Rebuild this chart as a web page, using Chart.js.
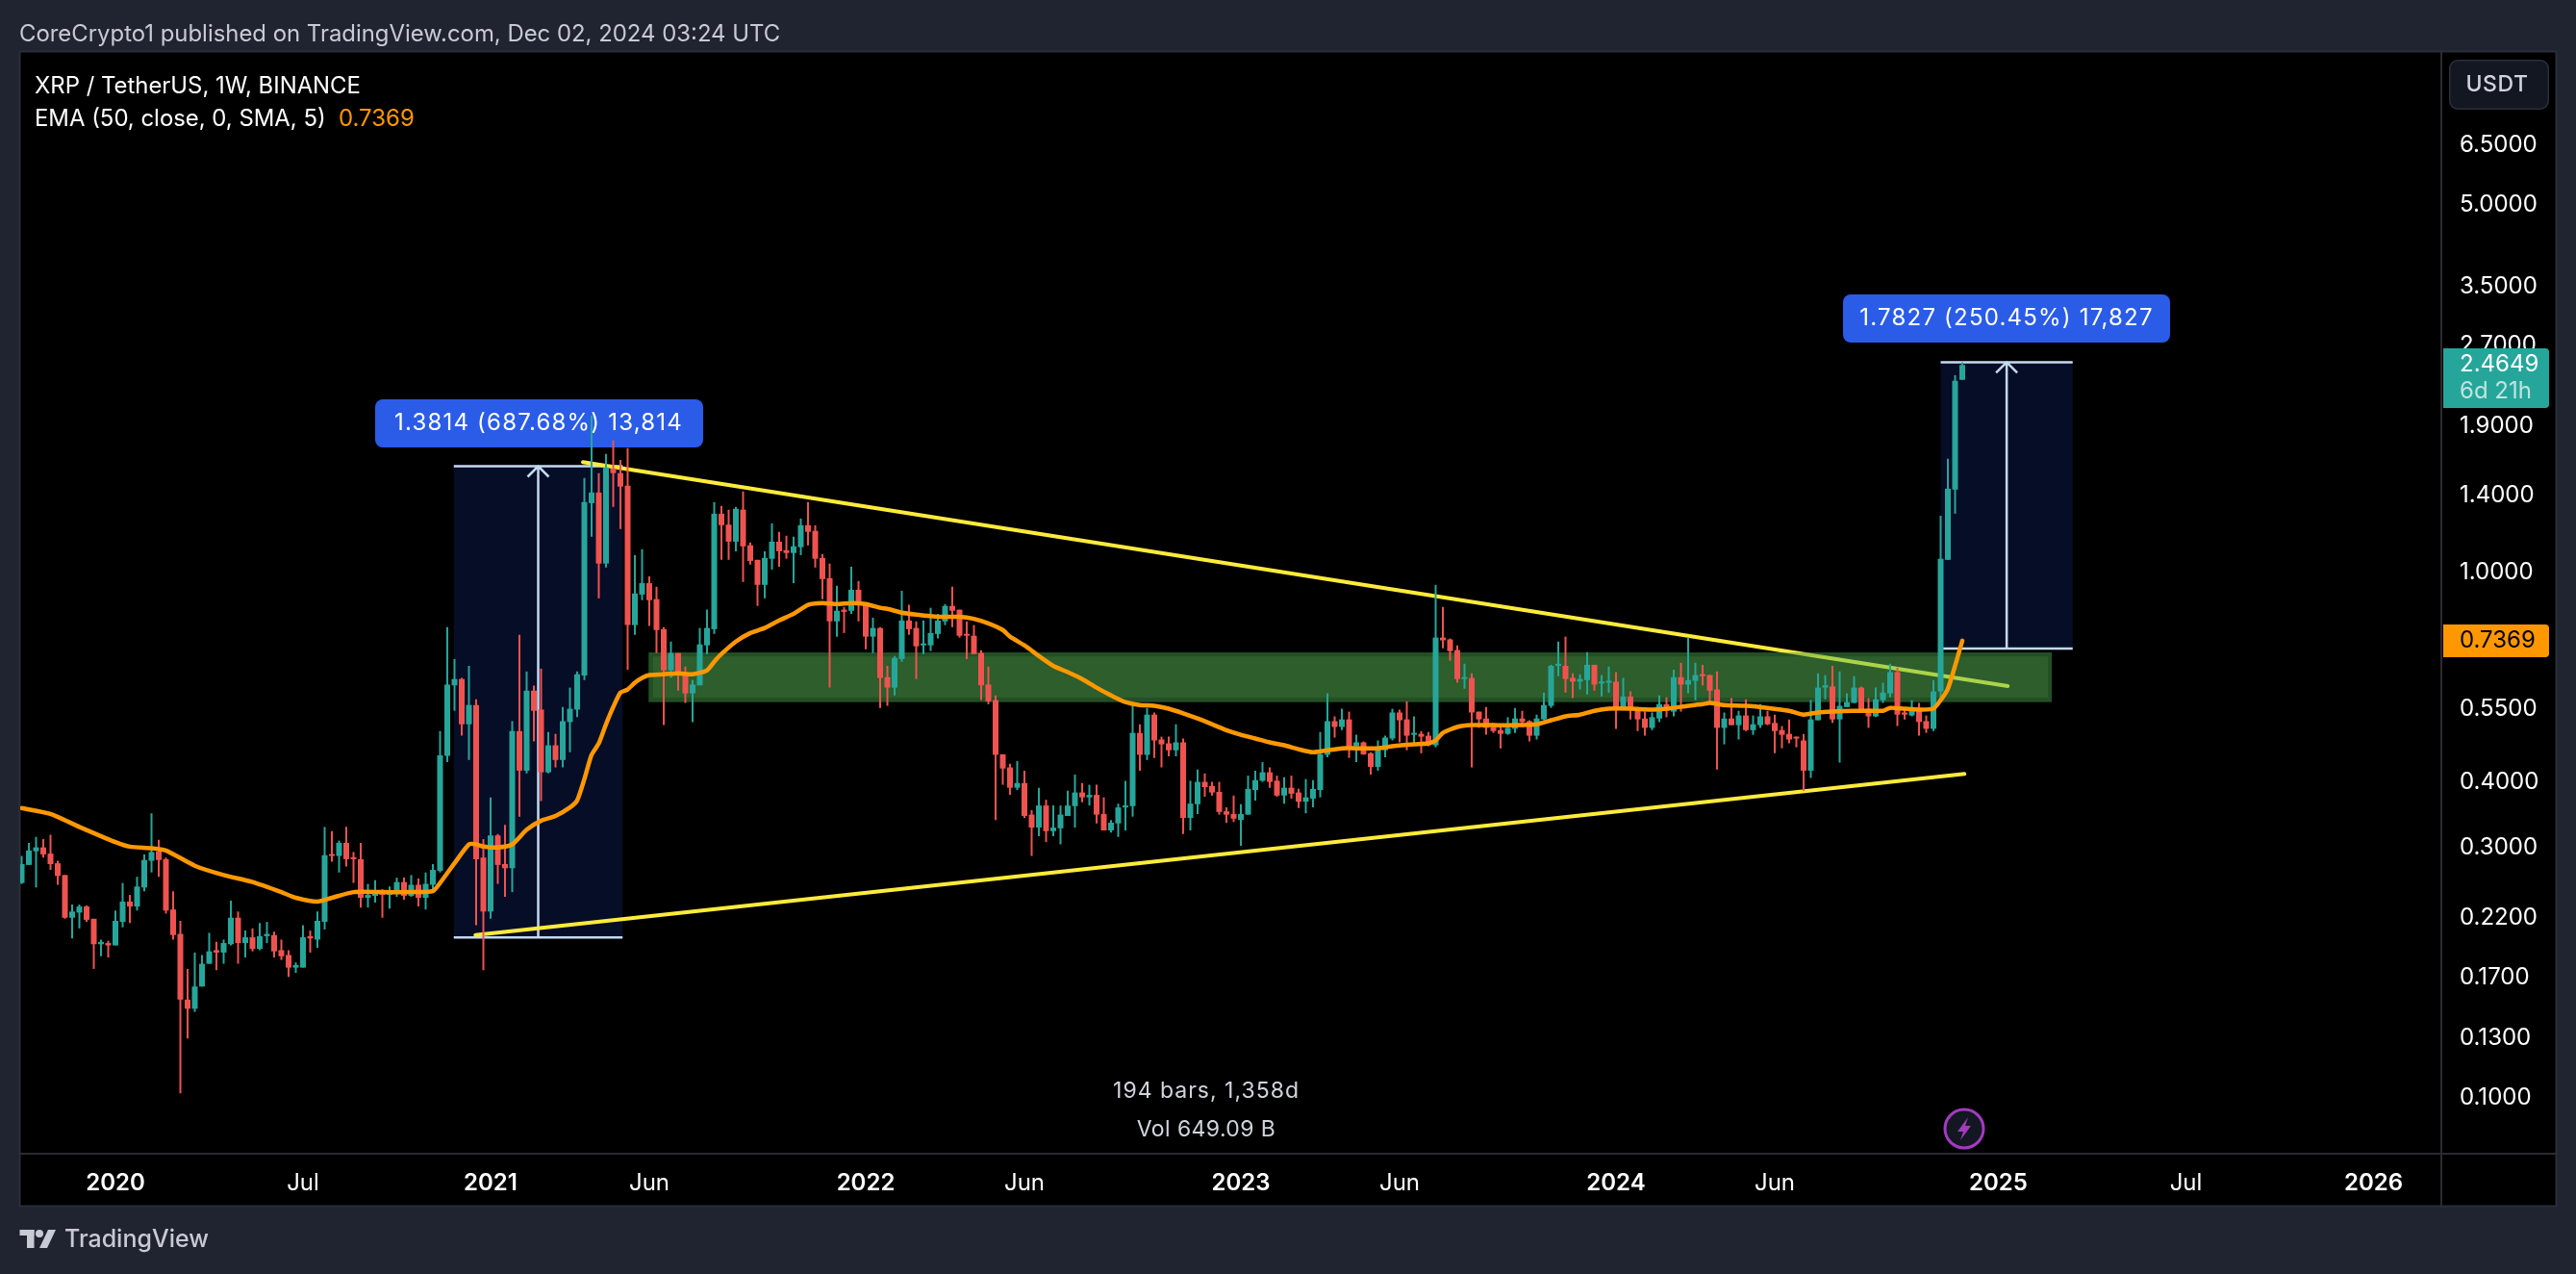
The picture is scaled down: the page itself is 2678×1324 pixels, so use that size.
<!DOCTYPE html>
<html>
<head>
  <title>XRP / TetherUS, 1W, BINANCE</title>
  <style>
    html, body { margin: 0; padding: 0; background: #1f2430; overflow: hidden; }
    canvas { display: block; }
  </style>
</head>
<body>
<canvas id="myCanvas" width="2678" height="1324" style="width:2678px;height:1324px"></canvas>
<script src="https://cdn.jsdelivr.net/npm/chart.js@4/dist/chart.umd.min.js"></script>
<script>
// ---------- weekly candles ----------
var opens = [
  .255,.276,.293,.298,.290,.278,.264,.219,.224,.230,
  .218,.195,.196,.194,.215,.235,.230,.250,.281,.293,
  .283,.227,.204,.153,.147,.162,.179,.190,.188,.195,
  .219,.196,.201,.191,.202,.203,.190,.186,.176,.176,
  .202,.199,.215,.289,.287,.304,.285,.283,.239,.241,
  .246,.242,.246,.256,.241,.253,.239,.253,.269,.445,
  .606,.623,.511,.556,.285,.225,.314,.277,.272,.496,
  .417,.592,.545,.414,.466,.437,.516,.545,.633,1.346,
  1.410,1.033,1.566,1.535,1.453,.789,.902,.948,.884,.775,
  .647,.698,.636,.585,.606,.722,.775,1.285,1.225,1.137,
  1.308,1.119,1.050,.941,1.055,1.137,1.095,1.082,1.110,1.222,
  1.192,1.059,.969,.802,.844,.840,.921,.862,.750,.779,
  .628,.600,.680,.805,.779,.722,.722,.759,.802,.858,
  .844,.759,.753,.698,.608,.568,.448,.423,.387,.395,
  .344,.325,.358,.320,.324,.342,.357,.379,.371,.375,
  .345,.321,.331,.355,.357,.492,.447,.533,.478,.470,
  .456,.472,.339,.360,.397,.390,.380,.349,.345,.336,
  .344,.383,.399,.414,.399,.374,.387,.379,.364,.369,
  .383,.447,.518,.505,.522,.464,.472,.450,.424,.456,
  .480,.538,.522,.488,.490,.486,.466,.747,.741,.707,
  .623,.626,.540,.524,.505,.498,.490,.501,.524,.518,
  .486,.522,.554,.660,.660,.626,.616,.620,.663,.611,
  .613,.616,.549,.577,.549,.524,.503,.524,.558,.540,
  .628,.608,.618,.636,.634,.595,.503,.524,.509,.531,
  .498,.509,.529,.514,.498,.490,.482,.476,.417,.520,
  .600,.603,.522,.551,.561,.600,.547,.529,.568,.585,
  .642,.538,.531,.549,.518,.501,.590,1.050,1.428,2.310
];
var highs = [
  .287,.304,.312,.309,.315,.281,.264,.232,.232,.231,
  .218,.199,.198,.226,.255,.242,.262,.289,.346,.308,
  .285,.246,.216,.175,.188,.186,.205,.197,.199,.236,
  .225,.207,.209,.214,.215,.206,.199,.190,.180,.212,
  .207,.225,.326,.320,.307,.326,.292,.304,.254,.258,
  .248,.251,.261,.261,.264,.260,.267,.277,.496,.782,
  .680,.626,.660,.570,.309,.371,.316,.329,.518,.756,
  .644,.605,.652,.494,.490,.551,.600,.644,1.503,1.976,
  1.535,1.670,1.771,1.627,1.713,1.072,1.100,.977,.933,.782,
  .734,.698,.658,.620,.779,.844,1.352,1.330,1.308,1.324,
  1.417,1.133,1.050,1.090,1.232,1.187,1.167,1.162,1.258,1.352,
  1.222,1.077,1.033,.937,.854,1.019,.957,.862,.815,.782,
  .660,.689,.917,.862,.802,.805,.851,.829,.865,.933,
  .844,.802,.789,.707,.658,.580,.448,.430,.435,.417,
  .351,.387,.367,.358,.358,.382,.410,.395,.392,.392,
  .371,.336,.361,.399,.561,.511,.549,.538,.484,.484,
  .511,.480,.399,.419,.412,.397,.397,.355,.374,.360,
  .408,.417,.433,.423,.408,.405,.408,.385,.402,.400,
  .494,.585,.529,.547,.540,.488,.474,.452,.476,.486,
  .547,.545,.565,.529,.496,.494,.941,.854,.744,.722,
  .666,.639,.540,.551,.514,.509,.527,.549,.542,.520,
  .533,.587,.663,.734,.750,.639,.636,.701,.663,.634,
  .658,.642,.626,.590,.551,.540,.538,.580,.575,.649,
  .669,.747,.669,.663,.634,.644,.538,.573,.542,.570,
  .531,.558,.542,.533,.507,.522,.484,.490,.568,.639,
  .634,.660,.644,.585,.631,.603,.573,.600,.613,.666,
  .655,.547,.568,.561,.531,.620,1.274,1.635,2.357,2.4945
];
var lows = [
  .254,.276,.250,.285,.270,.253,.218,.200,.209,.215,
  .175,.185,.184,.194,.210,.214,.226,.246,.267,.262,
  .223,.199,.1015,.129,.145,.162,.179,.174,.179,.194,
  .179,.184,.189,.190,.196,.184,.182,.169,.172,.176,
  .188,.192,.208,.280,.267,.274,.255,.229,.229,.234,
  .219,.228,.240,.237,.240,.230,.227,.245,.267,.433,
  .542,.486,.437,.212,.174,.218,.254,.240,.245,.341,
  .412,.474,.365,.412,.423,.423,.452,.527,.620,1.162,
  .887,1.015,1.324,1.202,.649,.756,.880,.786,.698,.509,
  .626,.592,.561,.516,.606,.695,.759,1.050,1.050,1.090,
  .953,1.028,.858,.887,1.006,1.019,1.055,.948,1.072,1.119,
  1.015,.884,.600,.750,.762,.829,.802,.710,.698,.549,
  .554,.580,.672,.756,.623,.695,.704,.744,.789,.782,
  .747,.680,.695,.568,.558,.336,.392,.375,.383,.339,
  .287,.313,.305,.313,.302,.342,.325,.363,.358,.331,
  .321,.318,.312,.321,.341,.417,.437,.441,.423,.444,
  .444,.316,.321,.345,.372,.374,.344,.332,.333,.300,
  .344,.366,.397,.387,.372,.361,.369,.354,.346,.355,
  .371,.442,.482,.498,.441,.433,.447,.410,.417,.442,
  .476,.472,.456,.468,.450,.464,.462,.713,.675,.613,
  .597,.423,.503,.488,.492,.460,.488,.492,.505,.474,
  .478,.520,.549,.631,.587,.573,.595,.582,.592,.577,
  .587,.501,.545,.522,.496,.486,.498,.516,.527,.529,
  .540,.585,.568,.606,.563,.419,.468,.509,.478,.496,
  .488,.503,.509,.450,.460,.470,.462,.382,.404,.520,
  .570,.514,.432,.551,.561,.542,.503,.527,.561,.575,
  .507,.522,.529,.486,.492,.496,.570,1.050,1.285,2.310
];
var closes = [
  .277,.294,.298,.289,.277,.263,.219,.225,.230,.217,
  .195,.197,.194,.216,.235,.230,.251,.282,.292,.282,
  .226,.203,.153,.147,.162,.179,.189,.188,.196,.219,
  .196,.201,.191,.202,.204,.189,.185,.176,.178,.201,
  .200,.216,.288,.287,.304,.283,.283,.239,.242,.246,
  .242,.247,.256,.241,.253,.239,.254,.270,.446,.608,
  .623,.511,.556,.283,.225,.314,.276,.272,.496,.417,
  .592,.542,.414,.466,.437,.518,.547,.636,1.352,1.410,
  1.033,1.574,1.535,1.447,.789,.906,.948,.880,.772,.647,
  .698,.634,.585,.608,.725,.779,1.285,1.222,1.137,1.313,
  1.114,1.045,.941,1.059,1.137,1.090,1.082,1.114,1.222,1.187,
  1.055,.965,.802,.840,.836,.921,.862,.750,.779,.626,
  .600,.683,.805,.775,.719,.728,.762,.805,.858,.840,
  .753,.753,.695,.606,.565,.447,.421,.387,.395,.342,
  .325,.358,.320,.325,.344,.358,.379,.371,.375,.344,
  .321,.332,.355,.358,.492,.447,.533,.476,.468,.456,
  .472,.339,.361,.397,.388,.379,.348,.344,.338,.345,
  .385,.400,.414,.397,.374,.387,.377,.364,.371,.385,
  .448,.518,.505,.522,.458,.472,.448,.424,.458,.482,
  .538,.520,.486,.492,.484,.466,.747,.738,.704,.623,
  .628,.538,.522,.503,.496,.490,.503,.524,.516,.486,
  .524,.556,.660,.666,.623,.616,.623,.663,.608,.616,
  .618,.549,.577,.547,.522,.503,.527,.558,.542,.628,
  .608,.620,.634,.631,.592,.503,.524,.509,.531,.498,
  .511,.529,.511,.496,.488,.478,.480,.417,.522,.600,
  .606,.522,.554,.563,.600,.545,.529,.570,.587,.642,
  .533,.533,.549,.516,.501,.590,1.055,1.434,2.300,2.4649
];

// ---------- EMA line, sampled by candle number ----------
var emaBars = [0,4,8,13,15,18,20,24,28,32,36,38,41,43,46,50,54,57,58,60,62,63,64,66,68,70,72,74,76,77,78,79,80,81,82,83,84,85,86,87,89,91,93,95,96,97,99,101,103,105,107,109,111,113,115,117,119,120,122,124,127,130,132,134,136,137,139,141,143,145,147,149,151,153,155,157,159,161,163,165,167,169,171,173,175,177,179,181,183,185,188,190,193,195,196,197,199,201,204,207,210,212,214,216,218,220,223,226,228,231,233,234,236,239,242,245,247,249,251,254,256,258,259,261,263,265,266,267,268,269];
var emaValues = [.354,.345,.326,.305,.299,.297,.294,.275,.264,.256,.245,.239,.235,.239,.245,.245,.245,.246,.255,.278,.302,.302,.299,.298,.302,.322,.335,.342,.355,.366,.402,.447,.470,.511,.551,.587,.595,.613,.626,.634,.636,.639,.636,.647,.672,.695,.734,.762,.779,.805,.829,.862,.869,.865,.869,.865,.851,.847,.833,.826,.818,.818,.811,.795,.772,.750,.722,.689,.660,.642,.623,.600,.580,.563,.556,.554,.547,.536,.524,.511,.498,.488,.480,.472,.466,.458,.452,.456,.460,.460,.460,.464,.468,.470,.476,.492,.505,.509,.509,.509,.511,.520,.529,.533,.542,.547,.547,.545,.547,.554,.558,.561,.556,.554,.549,.542,.533,.538,.540,.542,.542,.542,.549,.547,.545,.547,.568,.597,.660,.7369];

// ---------- axis labels ----------
var priceTicks = [6.5, 5, 3.5, 2.7, 1.9, 1.4, 1, .55, .4, .3, .22, .17, .13, .1];
var timeBars = [13, 39, 65, 87, 117, 139, 169, 191, 221, 243, 274, 300, 326];
var timeLabels = ['2020', 'Jul', '2021', 'Jun', '2022', 'Jun', '2023', 'Jun', '2024', 'Jun', '2025', 'Jul', '2026'];

// ---------- drawings on the chart ----------
var upperTrendBars = [77.8, 275.3];
var upperTrendPrices = [1.611, .604];
var lowerTrendBars = [62.9, 269.3];
var lowerTrendPrices = [.203, .411];
var zoneBars = [86.9, 281.4];
var zonePrices = [.70, .563];
var measureOneBars = [59.9, 83.3];
var measureOnePrices = [.2009, 1.5823];
var measureTwoBars = [266, 284.3];
var measureTwoPrices = [.7118, 2.4945];
var lastPrice = '2.4649';
var emaLast = '0.7369';

var GREEN = '#26a69a', RED = '#ef5350', ORANGE = '#ff9800', YELLOW = '#ffeb3b';
var FONT = 'Inter, "Noto Sans", sans-serif';

function candleColor(i) { return closes[i] >= opens[i] ? GREEN : RED; }
var candleColors = closes.map(function (c, i) { return candleColor(i); });

function roundBox(ctx, x, y, w, h, r, fill) {
  ctx.beginPath();
  ctx.roundRect(x, y, w, h, r);
  ctx.fillStyle = fill;
  ctx.fill();
}
function text(ctx, str, x, y, font, color, align, spacing) {
  ctx.font = font;
  ctx.fillStyle = color;
  ctx.textAlign = align || 'left';
  ctx.textBaseline = 'middle';
  ctx.letterSpacing = (spacing || 0) + 'px';
  ctx.fillText(str, x, y);
  ctx.letterSpacing = '0px';
}

function drawMeasure(chart, bars, prices) {
  var ctx = chart.ctx, xs = chart.scales.x, ys = chart.scales.y;
  var x0 = xs.getPixelForValue(bars[0]), x1 = xs.getPixelForValue(bars[1]);
  var yb = ys.getPixelForValue(prices[0]), yt = ys.getPixelForValue(prices[1]);
  var xm = (x0 + x1) / 2;
  ctx.fillStyle = '#060d26';
  ctx.fillRect(x0, yt, x1 - x0, yb - yt);
  ctx.strokeStyle = '#c3d9f3';
  ctx.lineWidth = 2.5;
  ctx.beginPath();
  ctx.moveTo(x0, yt); ctx.lineTo(x1, yt);
  ctx.moveTo(x0, yb); ctx.lineTo(x1, yb);
  ctx.moveTo(xm, yb); ctx.lineTo(xm, yt);
  ctx.moveTo(xm - 11, yt + 11); ctx.lineTo(xm, yt); ctx.lineTo(xm + 11, yt + 11);
  ctx.stroke();
}

var tvDrawings = {
  id: 'tvDrawings',
  beforeDraw: function (chart) {
    var ctx = chart.ctx;
    ctx.fillStyle = '#1f2430';
    ctx.fillRect(0, 0, 2678, 1324);
    ctx.fillStyle = '#000000';
    ctx.fillRect(21, 54, 2636, 1199);
    ctx.strokeStyle = '#2a2e39';
    ctx.lineWidth = 2;
    ctx.strokeRect(20.5, 53.5, 2637, 1200);
    ctx.strokeStyle = '#2b2b30';
    ctx.beginPath();
    ctx.moveTo(2538, 54); ctx.lineTo(2538, 1253);
    ctx.moveTo(21, 1199); ctx.lineTo(2657, 1199);
    ctx.stroke();
  },
  beforeDatasetsDraw: function (chart) {
    var ctx = chart.ctx;
    drawMeasure(chart, measureOneBars, measureOnePrices);
    drawMeasure(chart, measureTwoBars, measureTwoPrices);
    roundBox(ctx, 390, 415, 341, 50, 8, '#2a5ce8');
    text(ctx, '1.3814 (687.68%) 13,814', 560, 440, '24px ' + FONT, '#ffffff', 'center', 1.2);
    roundBox(ctx, 1916, 306, 340, 50, 8, '#2a5ce8');
    text(ctx, '1.7827 (250.45%) 17,827', 2086, 331, '24px ' + FONT, '#ffffff', 'center', 1.2);
  },
  afterDatasetDraw: function (chart, args) {
    // the zone goes over the yellow lines but under the candles
    if (chart.data.datasets[args.index].label !== 'lowerTrend') return;
    var ctx = chart.ctx, xs = chart.scales.x, ys = chart.scales.y;
    var x0 = xs.getPixelForValue(zoneBars[0]), x1 = xs.getPixelForValue(zoneBars[1]);
    var y0 = ys.getPixelForValue(zonePrices[0]), y1 = ys.getPixelForValue(zonePrices[1]);
    ctx.fillStyle = 'rgba(90,188,88,.5)';
    ctx.fillRect(x0 + 4, y0 + 4, x1 - x0 - 8, y1 - y0 - 8);
    ctx.strokeStyle = 'rgba(70,158,74,.5)';
    ctx.lineWidth = 4;
    ctx.strokeRect(x0 + 2, y0 + 2, x1 - x0 - 4, y1 - y0 - 4);
  },
  afterDraw: function (chart) {
    var ctx = chart.ctx;
    // header, legend
    text(ctx, 'CoreCrypto1 published on TradingView.com, Dec 02, 2024 03:24 UTC', 20, 36, '23.9px ' + FONT, '#c8cad4');
    text(ctx, 'XRP / TetherUS, 1W, BINANCE', 36, 90, '23.9px ' + FONT, '#ffffff');
    text(ctx, 'EMA (50, close, 0, SMA, 5)', 36, 124, '23.9px ' + FONT, '#ffffff');
    text(ctx, emaLast, 352, 124, '24px ' + FONT, ORANGE);

    // currency button
    roundBox(ctx, 2546, 62, 104, 52, 9, '#2a2e39');
    roundBox(ctx, 2547.5, 63.5, 101, 49, 8, '#131722');
    text(ctx, 'USDT', 2596, 88, '500 23px ' + FONT, '#d1d4dc', 'center', 0.6);

    // price tags
    roundBox(ctx, 2540, 362, 110, 62, [0, 4, 4, 0], '#26a69a');
    text(ctx, lastPrice, 2557, 379, '24px ' + FONT, '#ffffff');
    text(ctx, '6d 21h', 2557, 407, '24px ' + FONT, 'rgba(255,255,255,.7)');
    roundBox(ctx, 2540, 649, 110, 34, [0, 4, 4, 0], ORANGE);
    text(ctx, emaLast, 2557, 666, '24px ' + FONT, '#000000');

    // range info
    text(ctx, '194 bars, 1,358d', 1254, 1134, '23px ' + FONT, '#d1d4dc', 'center', 1);
    text(ctx, 'Vol 649.09 B', 1254, 1174, '23px ' + FONT, '#d1d4dc', 'center', 0.4);

    // lightning mark
    ctx.beginPath();
    ctx.arc(2042, 1173, 20, 0, Math.PI * 2);
    ctx.fillStyle = '#131722';
    ctx.fill();
    ctx.lineWidth = 3;
    ctx.strokeStyle = '#a33bbf';
    ctx.stroke();
    ctx.beginPath();
    ctx.moveTo(2046, 1161); ctx.lineTo(2035, 1176); ctx.lineTo(2041, 1176);
    ctx.lineTo(2038, 1185); ctx.lineTo(2049, 1170); ctx.lineTo(2043, 1170);
    ctx.closePath();
    ctx.fillStyle = '#a33bbf';
    ctx.fill();

    // footer logo
    ctx.fillStyle = '#c8cad4';
    ctx.fillRect(20.5, 1278, 15, 6);
    ctx.fillRect(28, 1278, 7.5, 19);
    ctx.beginPath();
    ctx.arc(41, 1282, 4, 0, Math.PI * 2);
    ctx.fill();
    ctx.beginPath();
    ctx.moveTo(50, 1278); ctx.lineTo(58, 1278); ctx.lineTo(49, 1297); ctx.lineTo(41, 1297);
    ctx.closePath();
    ctx.fill();
    text(ctx, 'TradingView', 67, 1288, '500 25px ' + FONT, '#c8cad4');
  }
};

new Chart(document.getElementById('myCanvas'), {
  type: 'bar',
  data: {
    datasets: [
      {
        type: 'line', label: 'upperTrend', order: 6,
        data: upperTrendBars.map(function (b, i) { return { x: b, y: upperTrendPrices[i] }; }),
        borderColor: YELLOW, borderWidth: 4, pointRadius: 0, borderCapStyle: 'round'
      },
      {
        type: 'line', label: 'lowerTrend', order: 5,
        data: lowerTrendBars.map(function (b, i) { return { x: b, y: lowerTrendPrices[i] }; }),
        borderColor: YELLOW, borderWidth: 4, pointRadius: 0, borderCapStyle: 'round'
      },
      {
        label: 'wicks', order: 3, grouped: false, barThickness: 2,
        inflateAmount: 0, borderWidth: 0, backgroundColor: candleColors,
        data: highs.map(function (h, i) { return { x: i, y: [lows[i], h] }; })
      },
      {
        label: 'bodies', order: 2, grouped: false, barThickness: 6, minBarLength: 2,
        inflateAmount: 0, borderWidth: 0, backgroundColor: candleColors,
        data: opens.map(function (o, i) { return { x: i, y: [o, closes[i]] }; })
      },
      {
        type: 'line', label: 'EMA', order: 1,
        data: emaBars.map(function (b, i) { return { x: b, y: emaValues[i] }; }),
        borderColor: ORANGE, borderWidth: 4.5, pointRadius: 0, tension: 0.2,
        borderCapStyle: 'round', borderJoinStyle: 'round'
      }
    ]
  },
  options: {
    responsive: false,
    animation: false,
    devicePixelRatio: 1,
    layout: { padding: { left: 21, top: 54, right: 21, bottom: 71 } },
    plugins: { legend: { display: false }, tooltip: { enabled: false } },
    scales: {
      x: {
        type: 'linear', min: -0.2, max: 335.4, offset: false, bounds: 'data',
        grid: { display: false }, border: { display: false },
        afterFit: function (s) { s.height = 54; },
        afterBuildTicks: function (s) { s.ticks = timeBars.map(function (b) { return { value: b }; }); },
        ticks: {
          autoSkip: false, maxRotation: 0, padding: 8, color: '#ffffff',
          callback: function (v) { return timeLabels[timeBars.indexOf(v)]; },
          font: function (c) {
            var label = timeLabels[timeBars.indexOf(c.tick && c.tick.value)] || '';
            return { family: FONT, size: 24, weight: /^\d/.test(label) ? '600' : '400' };
          }
        }
      },
      y: {
        type: 'logarithmic', position: 'right', min: 0.0779, max: 9.71, bounds: 'data',
        grid: { display: false }, border: { display: false },
        afterFit: function (s) { s.width = 119; },
        afterBuildTicks: function (s) { s.ticks = priceTicks.map(function (v) { return { value: v }; }); },
        ticks: {
          autoSkip: false, padding: 11, labelOffset: 1.5, color: '#ffffff', crossAlign: 'near',
          font: { family: FONT, size: 24 },
          callback: function (v) { return Number(v).toFixed(4); }
        }
      }
    }
  },
  plugins: [tvDrawings]
});
</script>
</body>
</html>
